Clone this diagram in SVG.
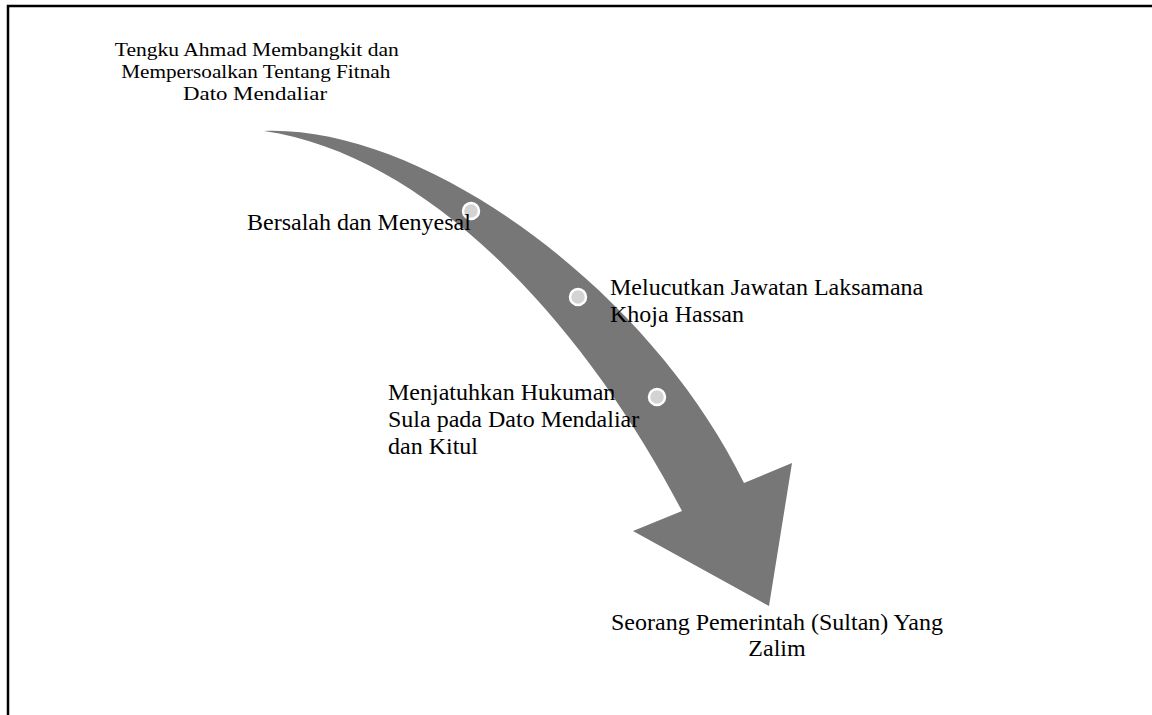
<svg xmlns="http://www.w3.org/2000/svg" width="1152" height="715" viewBox="0 0 1152 715">
<style>
  .t { font-family: "Liberation Serif", "Times New Roman", serif; font-size: 24px; fill: #000; }
  .top { font-family: "Liberation Serif", "Times New Roman", serif; font-size: 18px; fill: #000; }
  .dot { fill: #d3d3d3; stroke: #ffffff; stroke-width: 2.5; }
</style>
<rect x="0" y="0" width="1152" height="715" fill="#ffffff"/>
<g id="frame">
  <path d="M8,715 L8,6 L1152,6" fill="none" stroke="#000" stroke-width="2.5"/>
</g>
<g id="connectors">
  <path id="arrow" d="M264,131 C425,125 650,290 744,483 L792,463 L769,606 L633,531 L682,511 C585,325 430,155 264,131 Z" fill="#777777"/>
</g>
<g id="node-start">
  <text class="top" text-anchor="middle">
    <tspan x="259" y="56" textLength="284" lengthAdjust="spacingAndGlyphs">Tengku Ahmad Membangkit dan</tspan>
    <tspan x="258" y="78" textLength="269" lengthAdjust="spacingAndGlyphs">Mempersoalkan Tentang Fitnah</tspan>
    <tspan x="255" y="100" textLength="144" lengthAdjust="spacingAndGlyphs">Dato Mendaliar</tspan>
  </text>
</g>
<g id="node-1">
  <circle class="dot" cx="471" cy="211" r="8"/>
  <text class="t" x="247" y="230">Bersalah dan Menyesal</text>
</g>
<g id="node-2">
  <circle class="dot" cx="578" cy="297" r="8"/>
  <text class="t"><tspan x="610" y="295">Melucutkan Jawatan Laksamana</tspan><tspan x="610" y="322">Khoja Hassan</tspan></text>
</g>
<g id="node-3">
  <circle class="dot" cx="657" cy="397" r="8"/>
  <text class="t"><tspan x="388" y="400">Menjatuhkan Hukuman</tspan><tspan x="388" y="427">Sula pada Dato Mendaliar</tspan><tspan x="388" y="454">dan Kitul</tspan></text>
</g>
<g id="node-end">
  <text class="t" text-anchor="middle"><tspan x="777" y="630">Seorang Pemerintah (Sultan) Yang</tspan><tspan x="777" y="656">Zalim</tspan></text>
</g>
</svg>
